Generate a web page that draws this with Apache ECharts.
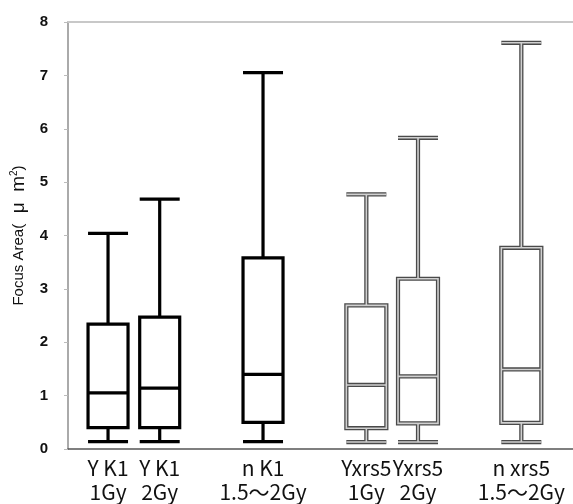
<!DOCTYPE html>
<html>
<head>
<meta charset="utf-8">
<script src="https://cdn.jsdelivr.net/npm/echarts@6/dist/echarts.min.js"></script>
<style>html,body{margin:0;padding:0;background:#fff;}#c{width:573px;height:504px;}</style>
</head>
<body>
<div id="c"></div>
<script>
const categories = ['Y K1\n1Gy', 'Y K1\n2Gy', 'n K1\n1.5～2Gy', 'Yxrs5\n1Gy', 'Yxrs5\n2Gy', 'n xrs5\n1.5～2Gy'];
const positions = [1, 2, 4, 6, 7, 9];
const minVals = [0.14, 0.14, 0.14, 0.13, 0.13, 0.13];
const q1Vals = [0.40, 0.40, 0.50, 0.39, 0.48, 0.49];
const medianVals = [1.05, 1.14, 1.40, 1.20, 1.36, 1.49];
const q3Vals = [2.34, 2.47, 3.58, 2.69, 3.19, 3.77];
const maxVals = [4.04, 4.68, 7.05, 4.77, 5.83, 7.61];
const yTicks = [0, 1, 2, 3, 4, 5, 6, 7, 8];
const doubleStyled = [false, false, false, true, true, true];

const labelFor = {};
positions.forEach((p, i) => { labelFor[p] = categories[i]; });

const outerData = positions.map((p, i) => ({
  value: [p, minVals[i], q1Vals[i], medianVals[i], q3Vals[i], maxVals[i]],
  itemStyle: doubleStyled[i]
    ? { color: 'rgba(0,0,0,0)', borderColor: '#4a4a4a', borderWidth: 4.2 }
    : { color: 'rgba(0,0,0,0)', borderColor: '#000', borderWidth: 3.2 }
}));
const innerData = positions.map((p, i) => [p, minVals[i], q1Vals[i], medianVals[i], q3Vals[i], maxVals[i]])
  .filter((d, i) => doubleStyled[i]);

const chart = echarts.init(document.getElementById('c'));
chart.setOption({
  animation: false,
  backgroundColor: '#fff',
  grid: { left: 68, top: 22, right: 0, bottom: 53 },
  xAxis: [{
    type: 'value', min: 0.225, max: 10,
    splitLine: { show: false },
    axisLine: { show: true, lineStyle: { color: '#555', width: 1.5 } },
    axisTick: { show: false },
    axisLabel: {
      customValues: positions,
      formatter: v => labelFor[v] || '',
      fontFamily: 'Noto Sans CJK JP', fontSize: 21, color: '#111',
      lineHeight: 24, margin: 7
    }
  }, {
    type: 'value', min: 0.225, max: 10, position: 'top',
    splitLine: { show: false },
    axisLine: { show: true, onZero: false, lineStyle: { color: '#c8c8c8', width: 2 } },
    axisTick: { show: false },
    axisLabel: { show: false }
  }],
  yAxis: {
    type: 'value', min: 0, max: 8, interval: 1,
    name: '{a|Focus Area(}{b|  μ  m}{s|2}{a|)}', nameLocation: 'middle', nameGap: 38,
    nameTextStyle: {
      fontFamily: 'Liberation Sans', fontSize: 15, color: '#111',
      rich: {
        a: { fontFamily: 'Liberation Sans', fontSize: 15, color: '#111', lineHeight: 20 },
        b: { fontFamily: 'Liberation Sans', fontSize: 19, color: '#111', lineHeight: 20 },
        s: { fontFamily: 'Liberation Sans', fontSize: 10, color: '#111', verticalAlign: 'top', lineHeight: 20 }
      }
    },
    splitLine: { show: false },
    axisLine: { show: true, lineStyle: { color: '#aaa', width: 2 } },
    axisTick: { show: true, length: 4, lineStyle: { color: '#bbb', width: 1 } },
    axisLabel: {
      formatter: v => yTicks.includes(v) ? String(v) : '',
      fontFamily: 'Liberation Sans', fontSize: 15, fontWeight: 'bold', color: '#111', margin: 20
    }
  },
  series: [{
    type: 'boxplot', xAxisIndex: 0,
    boxWidth: [40, 40],
    data: outerData,
    emphasis: { disabled: true }
  }, {
    type: 'boxplot', xAxisIndex: 1,
    boxWidth: [40, 40],
    data: innerData,
    itemStyle: { color: 'rgba(0,0,0,0)', borderColor: '#d0d0d0', borderWidth: 1.6 },
    emphasis: { disabled: true }
  }]
});
</script>
</body>
</html>
